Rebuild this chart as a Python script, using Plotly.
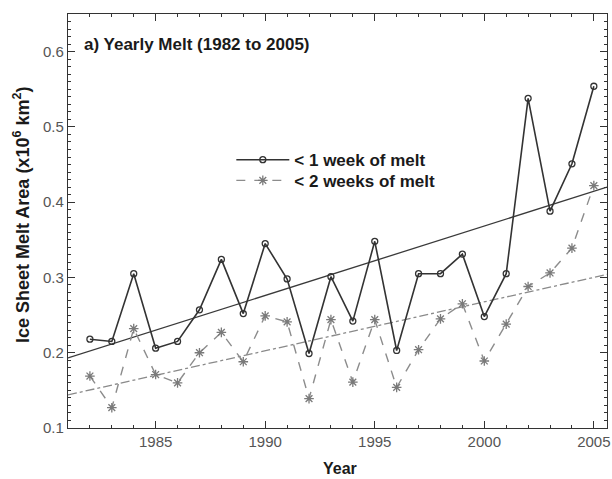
import plotly.graph_objects as go

years = list(range(1982, 2006))
melt_1wk = [0.218, 0.215, 0.305, 0.206, 0.215, 0.257, 0.324, 0.252, 0.345, 0.298,
            0.199, 0.301, 0.242, 0.348, 0.203, 0.305, 0.305, 0.331, 0.248, 0.305,
            0.538, 0.388, 0.451, 0.554]
melt_2wk = [0.169, 0.127, 0.232, 0.171, 0.160, 0.200, 0.227, 0.188, 0.249, 0.241,
            0.139, 0.244, 0.161, 0.244, 0.154, 0.204, 0.245, 0.265, 0.189, 0.238,
            0.288, 0.306, 0.339, 0.422]
trend_years = [1981.0, 2005.6]
trend_1wk = [0.193, 0.420]
trend_2wk = [0.144, 0.304]

FONT = "Liberation Sans, Arial, sans-serif"

fig = go.Figure()
fig.add_trace(go.Scatter(x=trend_years, y=trend_1wk, mode="lines",
                         line=dict(color="#3a3a3a", width=1.3), showlegend=False,
                         hoverinfo="skip"))
fig.add_trace(go.Scatter(x=trend_years, y=trend_2wk, mode="lines",
                         line=dict(color="#8a8a8a", width=1.3, dash="dashdot"),
                         showlegend=False, hoverinfo="skip"))
fig.add_trace(go.Scatter(x=years, y=melt_1wk, mode="lines+markers",
                         name="<b>< 1 week of melt</b>", legend="legend",
                         line=dict(color="#333333", width=1.6),
                         marker=dict(symbol="circle-open", size=6,
                                     color="#333333", line=dict(width=1.3))))
fig.add_trace(go.Scatter(x=years, y=melt_2wk, mode="lines+markers",
                         name="<b>< 2 weeks of melt</b>", legend="legend2",
                         line=dict(color="#8c8c8c", width=1.4, dash="dash"),
                         marker=dict(symbol="asterisk-open", size=8,
                                     color="#7a7a7a", line=dict(width=1.3, color="#7a7a7a"))))

fig.add_annotation(x=0.026, y=0.9275, xref="paper", yref="paper",
                   text="<b>a) Yearly Melt (1982 to 2005)</b>", showarrow=False,
                   xanchor="left", yanchor="middle",
                   font=dict(family=FONT, size=17, color="#1a1a1a"))
# axis titles
fig.add_annotation(x=0.505, y=-0.099, xref="paper", yref="paper",
                   text="<b>Year</b>", showarrow=False,
                   xanchor="center", yanchor="middle",
                   font=dict(family=FONT, size=16, color="#1a1a1a"))
fig.add_annotation(x=-0.0853, y=0.5145, xref="paper", yref="paper", textangle=-90,
                   text="<b>Ice Sheet Melt Area (x10<sup>6</sup> km<sup>2</sup>)</b>",
                   showarrow=False, xanchor="center", yanchor="middle",
                   font=dict(family=FONT, size=18, color="#1a1a1a"))

axis_common = dict(
    showline=True, linecolor="#333333", linewidth=1.2, mirror="allticks",
    ticks="inside", tickcolor="#333333", ticklen=7, tickwidth=1,
    showgrid=False, zeroline=False, automargin=False,
    tickfont=dict(family=FONT, size=15, color="#555555"),
)

fig.update_xaxes(range=[1981, 2005.6], tickvals=[1985, 1990, 1995, 2000, 2005],
                 minor=dict(dtick=1, ticks="inside", ticklen=3, tickcolor="#333333"),
                 **axis_common)
fig.update_yaxes(range=[0.1, 0.65], tickvals=[0.1, 0.2, 0.3, 0.4, 0.5, 0.6],
                 tickformat=".1f",
                 minor=dict(dtick=0.01, ticks="inside", ticklen=3, tickcolor="#333333"),
                 **axis_common)

legend_common = dict(xanchor="left", yanchor="middle", bgcolor="rgba(0,0,0,0)",
                     itemwidth=53, font=dict(family=FONT, size=17, color="#1a1a1a"))

fig.update_layout(
    width=612, height=479,
    margin=dict(l=68, r=5, t=14, b=51),
    paper_bgcolor="white", plot_bgcolor="white",
    legend=dict(x=0.303, y=0.647, **legend_common),
    legend2=dict(x=0.303, y=0.597, **legend_common),
    font=dict(family=FONT),
)

fig.write_html("out.html", config={"displayModeBar": False},
               post_script="document.body.style.margin='0';document.body.style.overflow='hidden';")
